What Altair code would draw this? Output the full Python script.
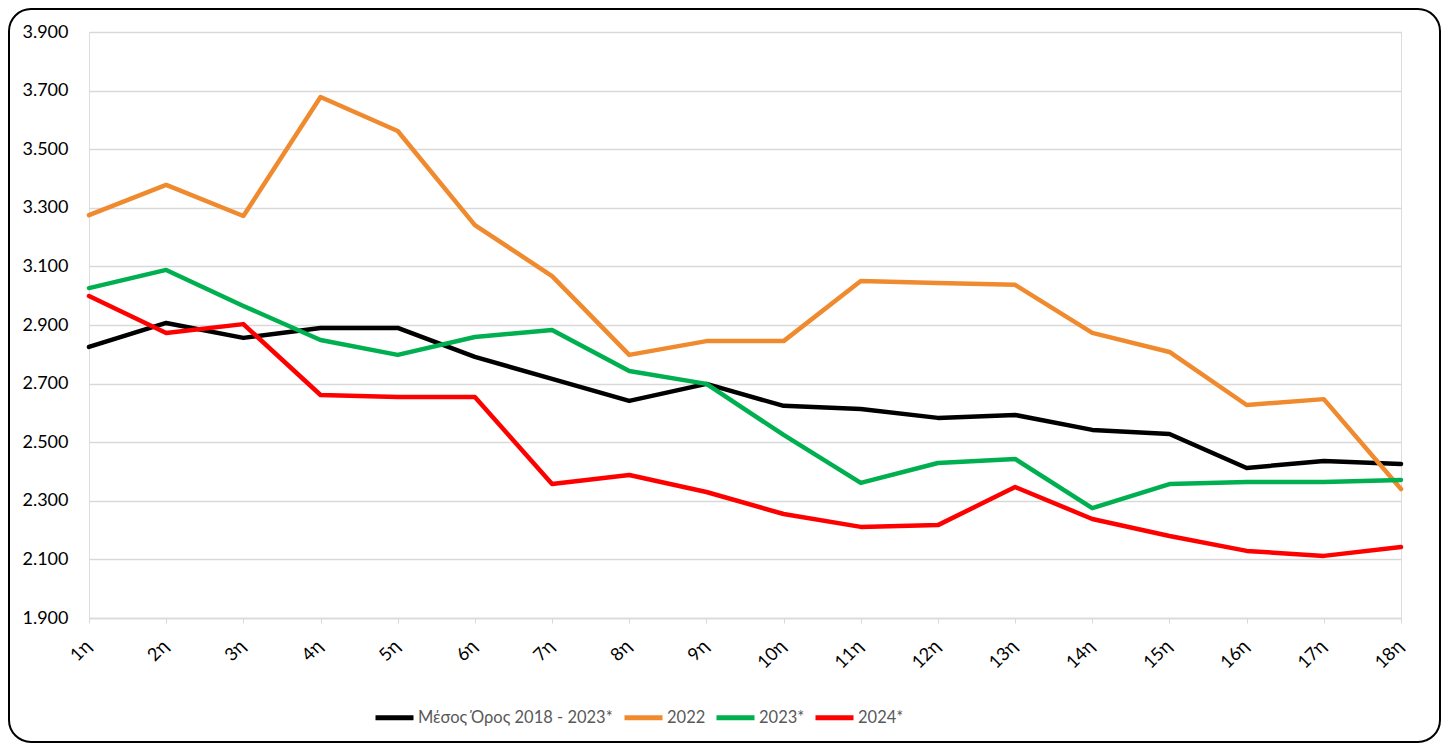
import altair as alt
import pandas as pd

weeks = [f"{i}η" for i in range(1, 19)]
series_names = ["Μέσος Όρος 2018 - 2023*", "2022", "2023*", "2024*"]
colors = ["#000000", "#F08A2E", "#00B050", "#FF0000"]

avg_2018_2023 = [2825, 2907, 2856, 2890, 2890, 2791, 2716, 2641, 2699, 2624, 2613, 2583, 2593, 2542, 2528, 2412, 2436, 2426]
y2022 = [3275, 3378, 3272, 3678, 3562, 3241, 3067, 2798, 2845, 2845, 3050, 3043, 3037, 2873, 2808, 2627, 2647, 2340]
y2023 = [3026, 3088, 2965, 2849, 2798, 2859, 2883, 2743, 2699, 2525, 2361, 2429, 2443, 2275, 2357, 2364, 2364, 2371]
y2024 = [2999, 2873, 2903, 2661, 2654, 2654, 2357, 2388, 2330, 2255, 2211, 2217, 2347, 2238, 2180, 2129, 2112, 2142]

y_ticks = [1900, 2100, 2300, 2500, 2700, 2900, 3100, 3300, 3500, 3700, 3900]

rows = []
for name, vals in zip(series_names, [avg_2018_2023, y2022, y2023, y2024]):
    for w, v in zip(weeks, vals):
        rows.append({"week": w, "value": v, "series": name})
df = pd.DataFrame(rows)

W, H = 1312, 586
PAD_L, PAD_T, PAD_R, PAD_B = 81, 24, 40, 125
FONT = "Lato"

lines = alt.Chart(df).mark_line(strokeWidth=4.5, strokeCap="round", strokeJoin="round").encode(
    x=alt.X("week:O", sort=weeks, title=None,
            scale=alt.Scale(type="point", padding=0),
            axis=alt.Axis(labelAngle=-45, labelFontSize=18, labelFont=FONT,
                          labelColor="#000000", labelPadding=14, labelOffset=-7, tickSize=5,
                          tickColor="#d9d9d9", domainColor="#d9d9d9", domainWidth=1.5,
                          grid=False)),
    y=alt.Y("value:Q", title=None,
            scale=alt.Scale(domain=[1900, 3900], nice=False, zero=False),
            axis=alt.Axis(values=y_ticks, labelFontSize=18, labelFont=FONT,
                          labelColor="#000000", labelPadding=21, ticks=False, domain=False,
                          gridColor="#d9d9d9", gridWidth=1.5,
                          labelExpr="replace(format(datum.value, ','), ',', '.')")),
    color=alt.Color("series:N", sort=series_names,
                    scale=alt.Scale(domain=series_names, range=colors),
                    legend=alt.Legend(title=None, orient="none", direction="horizontal",
                                      legendX=284, legendY=664,
                                      symbolType="stroke", symbolStrokeWidth=5, symbolSize=1444,
                                      labelFontSize=16.5, labelFont=FONT, labelColor="#595959",
                                      labelOffset=2, columnPadding=0, labelLimit=0)),
)

frame = alt.Chart(pd.DataFrame({"a": [0]})).mark_rect(
    fillOpacity=0, stroke="#000000", strokeWidth=2, cornerRadius=22
).encode(
    x=alt.value(9 - 8 - PAD_L),
    x2=alt.value(1440 - 8 - PAD_L),
    y=alt.value(9 - 8 - PAD_T),
    y2=alt.value(742 - 8 - PAD_T),
)

chart = alt.layer(frame, lines).properties(
    width=W, height=H,
    autosize=alt.AutoSizeParams(type="none"),
    padding={"left": PAD_L, "top": PAD_T, "right": PAD_R, "bottom": PAD_B},
).configure_view(stroke=None).configure(background="white")

chart.save("out.html", embed_options={"renderer": "svg", "actions": False})
